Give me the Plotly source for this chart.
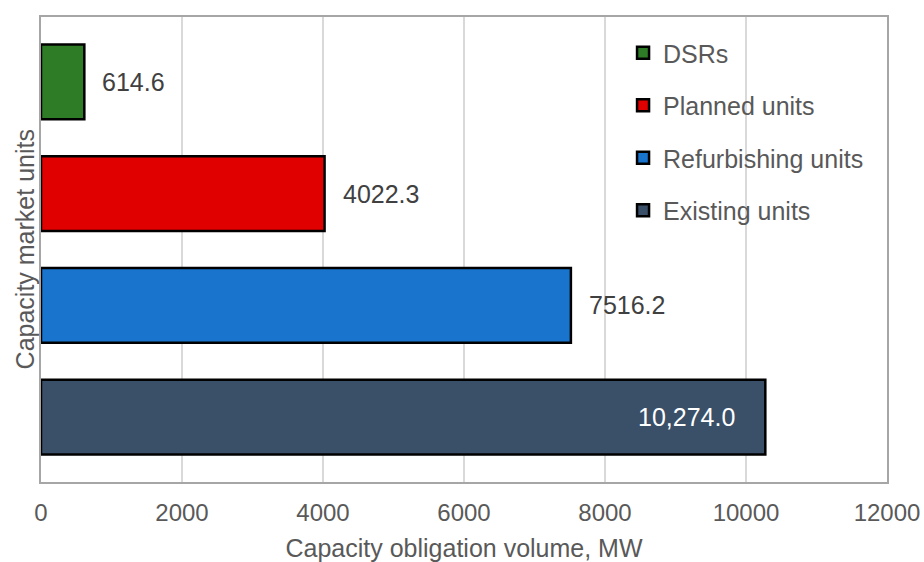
import plotly.graph_objects as go

# Capacity market units and their obligation volumes (MW)
categories = ["DSRs", "Planned units", "Refurbishing units", "Existing units"]
volumes = [614.6, 4022.3, 7516.2, 10274.0]
colors = ["#2E7D26", "#E00000", "#1874CD", "#3A5069"]

x_ticks = [0, 2000, 4000, 6000, 8000, 10000, 12000]

FONT = "Liberation Sans, Arial, sans-serif"
TEXT_COLOR = "#595959"


def fmt(v):
    return f"{v:,.1f}" if v >= 10000 else f"{v:.1f}"


fig = go.Figure()
for name, val, col in zip(categories, volumes, colors):
    fig.add_trace(go.Bar(
        x=[val], y=[name], orientation="h", name=name,
        legendgroup=name,
        marker=dict(color=col, line=dict(color="#000000", width=2.5)),
        width=0.67,
    ))

# value labels: outside for shorter bars, inside (white) for the longest
annotations = []
vmax = max(volumes)
for name, val in zip(categories, volumes):
    inside = val == vmax
    annotations.append(dict(
        x=val, y=name, xref="x", yref="y", text=fmt(val), showarrow=False,
        xanchor="right" if inside else "left",
        xshift=-28 if inside else 16,
        font=dict(family=FONT, size=25, color="#FFFFFF" if inside else "#404040"),
    ))

# vertical axis title, placed just left of the plot frame
annotations.append(dict(
    text="Capacity market units", xref="paper", yref="paper",
    x=-0.019, y=0.5, xanchor="center", yanchor="middle", textangle=-90,
    showarrow=False, font=dict(family=FONT, size=25, color=TEXT_COLOR),
))

fig.update_layout(
    width=924, height=562,
    margin=dict(l=41, r=37, t=17, b=80),
    paper_bgcolor="white", plot_bgcolor="white",
    font=dict(family=FONT, size=24, color=TEXT_COLOR),
    showlegend=True,
    legend=dict(
        x=0.688, y=0.972, xanchor="left", yanchor="top",
        bgcolor="rgba(0,0,0,0)", tracegroupgap=17,
        font=dict(family=FONT, size=25, color=TEXT_COLOR),
    ),
    annotations=annotations,
    bargap=0.33,
)
fig.update_xaxes(
    range=[0, 12000], tickvals=x_ticks, ticktext=[str(t) for t in x_ticks],
    showgrid=True, gridcolor="#D9D9D9", gridwidth=2,
    showline=True, linecolor="#A6A6A6", linewidth=2, mirror=True,
    zeroline=False, ticks="", ticklabelstandoff=8,
    tickfont=dict(family=FONT, size=24, color=TEXT_COLOR),
    title=dict(text="Capacity obligation volume, MW", standoff=21,
               font=dict(family=FONT, size=25, color=TEXT_COLOR)),
    automargin=False,
)
fig.update_yaxes(
    type="category", categoryorder="array", categoryarray=categories[::-1],
    range=[-0.58, 3.58], showticklabels=False, ticks="",
    showgrid=False, showline=True, linecolor="#A6A6A6", linewidth=2, mirror=True,
    automargin=False,
)

fig.write_html("out.html")
